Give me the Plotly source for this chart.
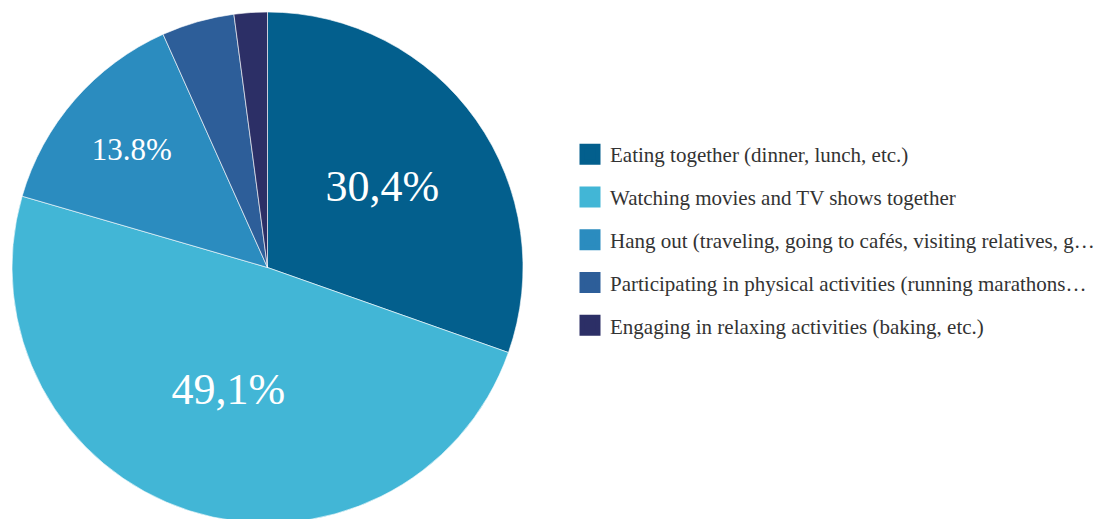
import plotly.graph_objects as go

# Share of respondents by shared family activity
labels = [
    "Eating together (dinner, lunch, etc.)",
    "Watching movies and TV shows together",
    "Hang out (traveling, going to cafés, visiting relatives, g…",
    "Participating in physical activities (running marathons…",
    "Engaging in relaxing activities (baking, etc.)",
]
values = [30.4, 49.1, 13.8, 4.6, 2.1]
slice_text = ["30,4%", "49,1%", "13.8%", "", ""]
colors = ["#035f8d", "#42b6d6", "#2b8cbf", "#2d5e99", "#2c2f66"]

FONT = "Liberation Serif"
W, H = 1117, 523
TOP = 12
diam = H - TOP
cx = 267.5

fig = go.Figure()

fig.add_trace(go.Pie(
    labels=labels,
    values=values,
    text=slice_text,
    textinfo="text",
    textposition="inside",
    insidetextorientation="horizontal",
    textfont=dict(family=FONT, color="white", size=[44, 44, 31, 1, 1]),
    marker=dict(colors=colors, line=dict(color="rgba(255,255,255,0.6)", width=1)),
    sort=False,
    direction="clockwise",
    rotation=0,
    showlegend=False,
    hoverinfo="skip",
    domain=dict(x=[(cx - diam / 2) / W, (cx + diam / 2) / W], y=[0, 1]),
))

# Legend entries, one group per category so the groups can be spaced apart
for lab, col in zip(labels, colors):
    fig.add_trace(go.Scatter(
        x=[None], y=[None],
        mode="markers",
        name=lab,
        legendgroup=lab,
        marker=dict(symbol="square", size=16, color=col, line=dict(color=col, width=5)),
        hoverinfo="skip",
    ))

fig.update_layout(
    width=W,
    height=H,
    margin=dict(l=0, r=0, t=TOP, b=0),
    paper_bgcolor="white",
    plot_bgcolor="white",
    xaxis=dict(visible=False),
    yaxis=dict(visible=False),
    font=dict(family=FONT),
    legend=dict(
        x=570 / W,
        xanchor="left",
        y=1 - (134 - TOP) / (H - TOP),
        yanchor="top",
        font=dict(family=FONT, size=21, color="#333333"),
        tracegroupgap=12.5,
        bgcolor="rgba(0,0,0,0)",
    ),
)

fig.write_html(
    "out.html",
    post_script="document.documentElement.style.overflow='hidden';document.body.style.overflow='hidden';",
)
